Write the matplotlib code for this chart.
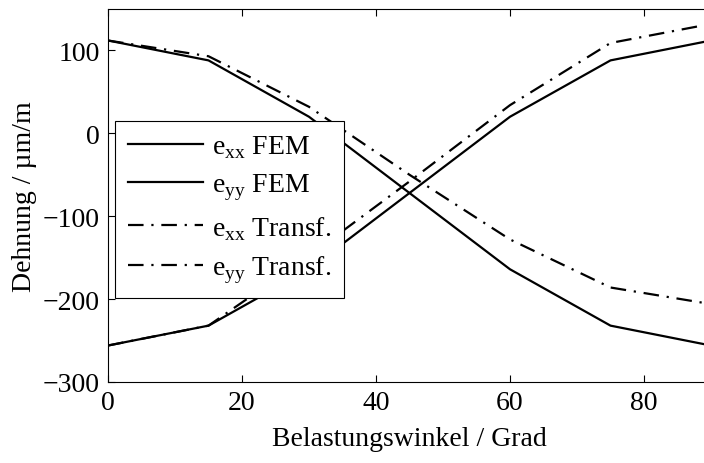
import matplotlib
matplotlib.use("Agg")
import matplotlib.pyplot as plt

plt.rcParams['font.family'] = ['Liberation Serif', 'DejaVu Serif']
plt.rcParams['mathtext.fontset'] = 'custom'
plt.rcParams['mathtext.rm'] = 'Liberation Serif'
plt.rcParams['font.size'] = 20

# Belastungswinkel in Grad
winkel = [0, 15, 30, 45, 60, 75, 90]

# Dehnungen in um/m
exx_fem = [112, 88, 20, -72, -164, -232, -256]
eyy_fem = [-256, -232, -164, -72, 20, 88, 112]
exx_transf = [112, 93, 32, -50, -128, -186, -206]
eyy_transf = [-256, -232, -148, -58, 34, 109, 132]

labels = [r'e$_{\mathrm{xx}}$ FEM', r'e$_{\mathrm{yy}}$ FEM',
          r'e$_{\mathrm{xx}}$ Transf.', r'e$_{\mathrm{yy}}$ Transf.']

fig = plt.figure(figsize=(7.04, 4.64), dpi=100)
ax = fig.add_axes([108/704, 81/464, 603/704, 373/464])

dd = (7, 3.5, 1, 3.5)
ax.plot(winkel, exx_fem, 'k-', lw=1.6, label=labels[0])
ax.plot(winkel, eyy_fem, 'k-', lw=1.6, label=labels[1])
ax.plot(winkel, exx_transf, 'k', lw=1.6, dashes=dd, label=labels[2])
ax.plot(winkel, eyy_transf, 'k', lw=1.6, dashes=dd, label=labels[3])

ax.set_xlim(0, 90)
ax.set_ylim(-300, 150)
ax.set_xticks([0, 20, 40, 60, 80])
ax.set_yticks([-300, -200, -100, 0, 100])
ax.tick_params(direction='in', top=True, right=True, length=5, width=0.8, pad=6)
ax.set_xlabel('Belastungswinkel / Grad', labelpad=8)
ax.set_ylabel('Dehnung / µm/m', labelpad=4)

leg = ax.legend(loc='upper left', bbox_to_anchor=(0.012, 0.70), borderaxespad=0,
                fancybox=False, edgecolor='k', framealpha=1, handlelength=2.7,
                labelspacing=0.42, handletextpad=0.35, borderpad=0.45)
leg.get_frame().set_linewidth(0.8)

fig.savefig('out.png', dpi=100)
